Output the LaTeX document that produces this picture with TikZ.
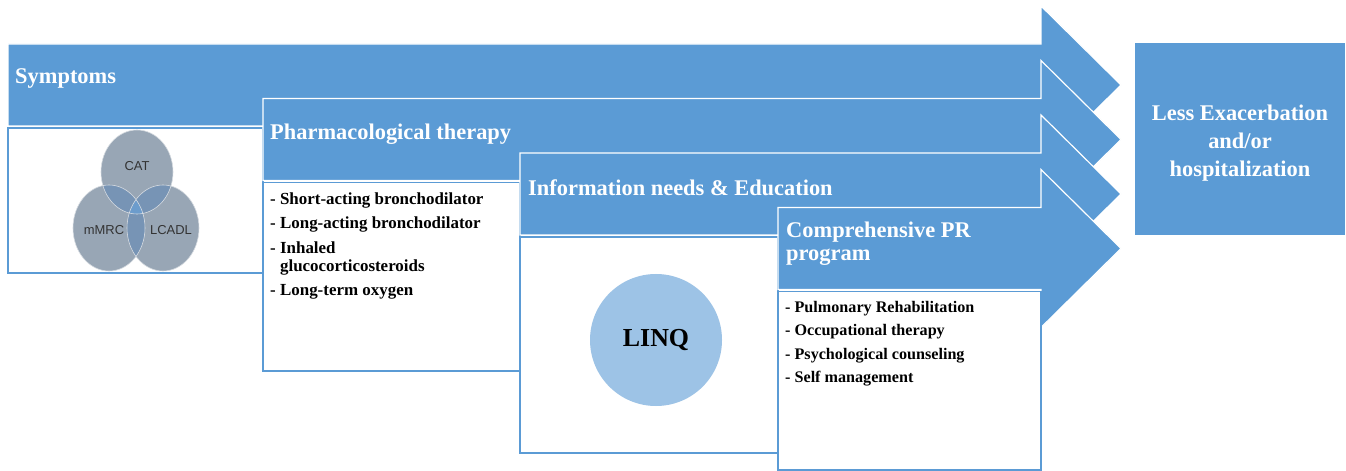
\documentclass[tikz,border=0pt]{standalone}
\usepackage{fontspec}
\setmainfont{Liberation Serif}
\newfontfamily\vennfont{Liberation Sans}
\usetikzlibrary{positioning}
\definecolor{stageblue}{HTML}{5B9BD5}
\definecolor{linqblue}{HTML}{9DC3E6}
\definecolor{venngray}{HTML}{98A6B5}
\definecolor{vennmid}{HTML}{7794B5}
\definecolor{venncore}{HTML}{6C9CCC}

\tikzset{
  stagearrow/.style={fill=stageblue,draw=white,line width=1.2pt,line join=miter},
  listbox/.style={draw=stageblue,fill=white,line width=1.5pt},
  headtext/.style={text=white,font=\bfseries\fontsize{22.5}{23}\selectfont,anchor=west,align=left,inner sep=0pt},
  itemtext/.style={font=\bfseries\fontsize{17}{18}\selectfont,anchor=north west,align=left,inner sep=0pt},
  venntext/.style={font=\vennfont\fontsize{13}{13}\selectfont,text=black!80,inner sep=0pt},
  outcome/.style={fill=stageblue,minimum width=210bp,minimum height=192bp,text=white,
    font=\bfseries\fontsize{22.5}{28}\selectfont,align=center},
}

\begin{document}
\begin{tikzpicture}[x=1bp,y=-1bp]
  \useasboundingbox (0,0) rectangle (1346,471);
  % stage arrows, each with its box underneath
  \foreach \xa/\yc/\xb/\yb in {8/85/263/273,263/139.5/520/371,520/194/778/453,778/248.5/1041/470}{
    \draw[stagearrow] (\xa,\yc-41) -- (1041,\yc-41) -- (1041,\yc-79) -- (1121,\yc)
      -- (1041,\yc+79) -- (1041,\yc+41) -- (\xa,\yc+41) -- cycle;
    \draw[listbox] (\xa,\yc+43) rectangle (\xb,\yb);
  }
  \node[headtext] (symptoms) at (15,79) {Symptoms};
  \node[headtext] (pharm) at (270,134) {Pharmacological therapy};
  \node[headtext] (info) at (528,188) {Information needs \& Education};
  \node[headtext] (prprog) at (786,244) {Comprehensive PR\\program};

  % symptom scores
  \fill[venngray] (137,172) ellipse [x radius=36,y radius=42];
  \fill[venngray] (109,228) ellipse [x radius=36,y radius=43];
  \fill[venngray] (163,228) ellipse [x radius=36,y radius=43];
  \begin{scope}
    \clip (137,172) ellipse [x radius=36,y radius=42];
    \fill[vennmid] (109,228) ellipse [x radius=36,y radius=43];
    \fill[vennmid] (163,228) ellipse [x radius=36,y radius=43];
  \end{scope}
  \begin{scope}
    \clip (109,228) ellipse [x radius=36,y radius=43];
    \fill[vennmid] (163,228) ellipse [x radius=36,y radius=43];
  \end{scope}
  \begin{scope}
    \clip (137,172) ellipse [x radius=36,y radius=42];
    \clip (109,228) ellipse [x radius=36,y radius=43];
    \fill[venncore] (163,228) ellipse [x radius=36,y radius=43];
  \end{scope}
  \draw[white!60!venngray,line width=0.6pt] (137,172) ellipse [x radius=36,y radius=42]
    (109,228) ellipse [x radius=36,y radius=43] (163,228) ellipse [x radius=36,y radius=43];
  \node[venntext] (cat) at (137,166) {CAT};
  \node[venntext] (mmrc) at (104,230) {mMRC};
  \node[venntext] (lcadl) at (171,230) {LCADL};

  % drug list
  \node[itemtext] (druglist) at (270,192.5) {- Short-acting bronchodilator\\[6.5bp]
    - Long-acting bronchodilator\\[6.5bp]
    - Inhaled\\ \hphantom{- }glucocorticosteroids\\[6.5bp]
    - Long-term oxygen};

  \node[circle,fill=linqblue,minimum size=132bp,font=\bfseries\fontsize{26}{26}\selectfont] (linq) at (656,340) {LINQ};

  % rehabilitation list
  \node[itemtext,font=\bfseries\fontsize{16.2}{23.5}\selectfont] (prlist) at (785,301) {- Pulmonary Rehabilitation\\
    - Occupational therapy\\
    - Psychological counseling\\
    - Self management};

  \node[outcome] (result) at (1240,139) {};
  \node[text=white,font=\bfseries\fontsize{22.5}{28}\selectfont,align=center] (resulttext)
    at ([yshift=-4bp]result.center) {Less Exacerbation\\and/or\\hospitalization};
\end{tikzpicture}
\end{document}
